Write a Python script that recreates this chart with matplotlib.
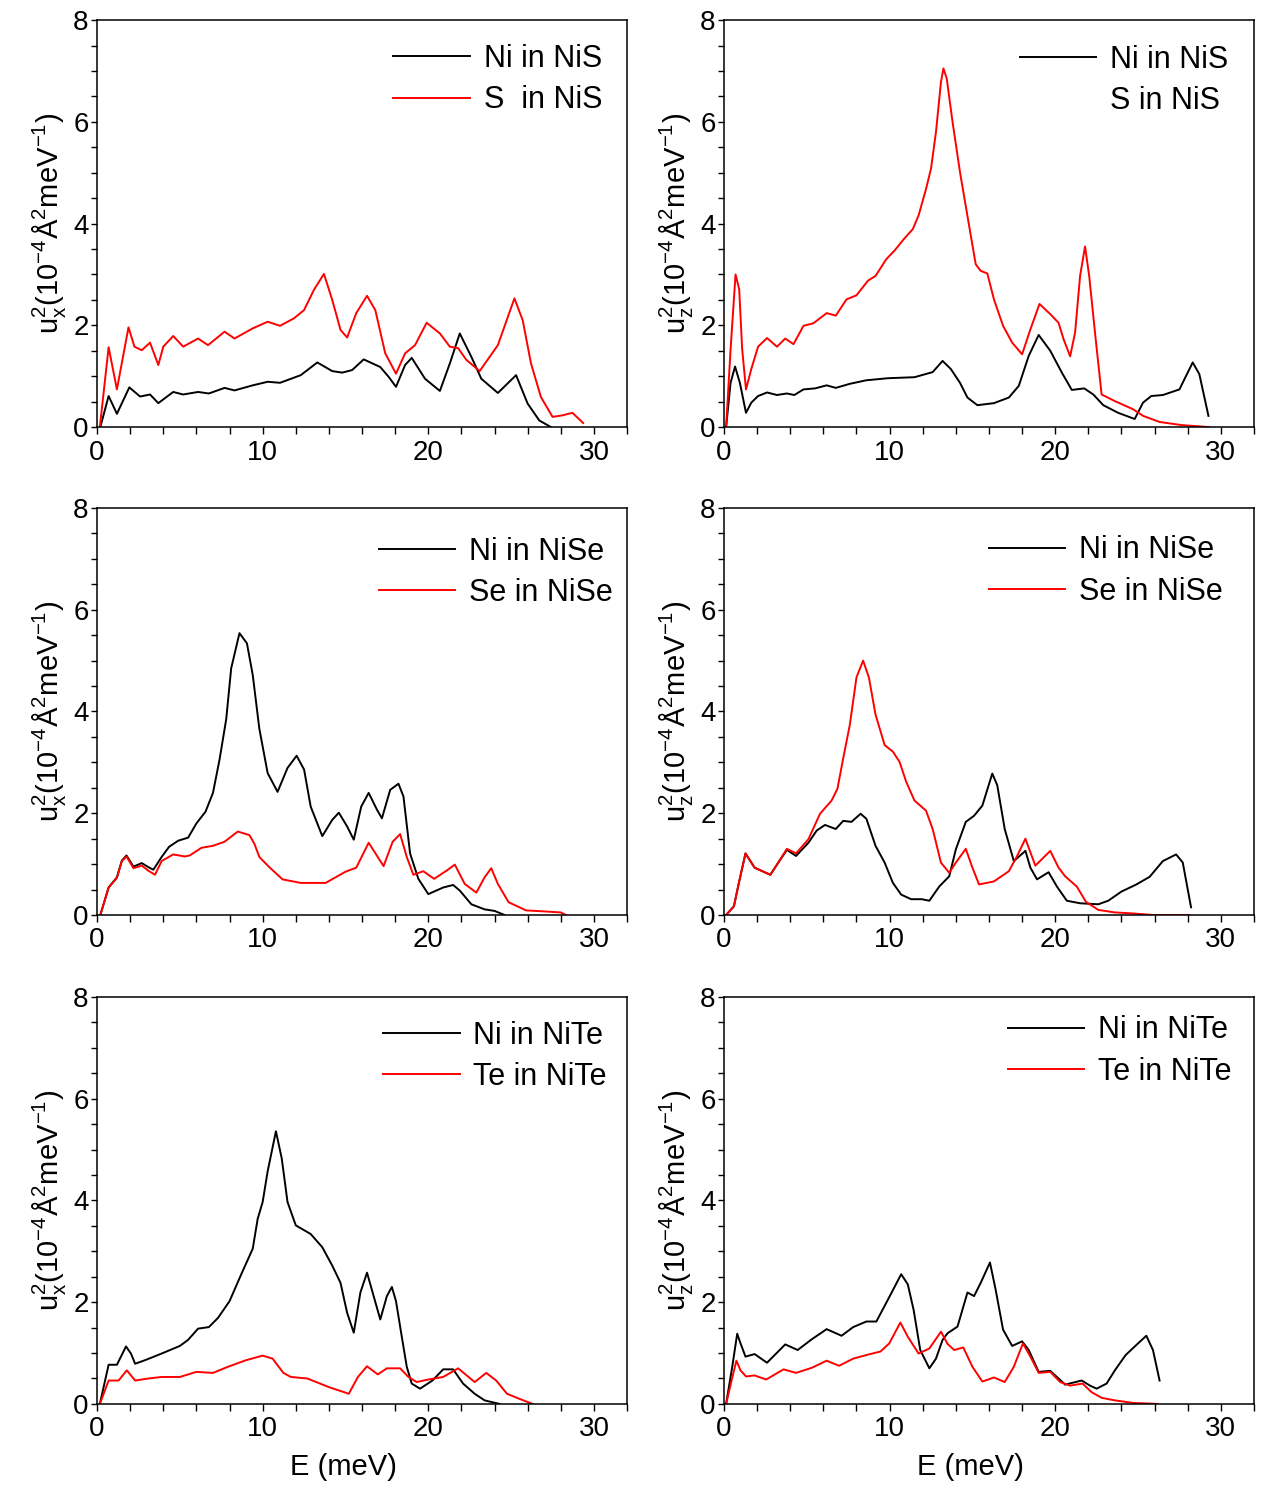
import matplotlib
matplotlib.use('Agg')
import matplotlib.pyplot as plt
from matplotlib.ticker import MultipleLocator

plt.rcParams['font.family'] = ['Liberation Sans', 'DejaVu Sans']
plt.rcParams['mathtext.fontset'] = 'custom'
plt.rcParams['mathtext.rm'] = 'Liberation Sans'
plt.rcParams['mathtext.it'] = 'Liberation Sans'

# NiS, u_x^2
nis_x_ni_E = [0.2, 0.7, 1.2, 1.95, 2.6, 3.2, 3.7, 4.6, 5.2, 6.1, 6.75, 7.7, 8.3, 9.4, 10.3, 11.05,
              12.3, 13.3, 14.2, 14.8, 15.4, 16.1, 17.1, 17.6, 18.05, 18.6, 19.0, 19.8, 20.7, 21.3,
              21.9, 22.6, 23.2, 24.2, 25.3, 26.0, 26.7, 27.4]
nis_x_ni = [0, 0.61, 0.26, 0.78, 0.6, 0.64, 0.47, 0.69, 0.64, 0.69, 0.66, 0.77, 0.72, 0.82, 0.89, 0.87,
            1.02, 1.27, 1.1, 1.07, 1.12, 1.33, 1.18, 0.99, 0.79, 1.22, 1.36, 0.95, 0.71, 1.25,
            1.84, 1.38, 0.95, 0.67, 1.02, 0.46, 0.13, 0]
nis_x_s_E = [0.17, 0.7, 1.2, 1.9, 2.26, 2.7, 3.2, 3.7, 4.0, 4.6, 5.2, 6.1, 6.7, 7.7, 8.3, 9.4, 10.3,
             11.05, 11.9, 12.5, 13.1, 13.7, 14.2, 14.7, 15.1, 15.65, 16.3, 16.8, 17.4, 18.05, 18.6,
             19.2, 19.9, 20.7, 21.3, 21.8, 22.3, 23.1, 24.2, 25.2, 25.7, 26.2, 26.8, 27.5, 28.1,
             28.7, 29.35]
nis_x_s = [0, 1.57, 0.74, 1.96, 1.58, 1.51, 1.66, 1.22, 1.58, 1.79, 1.58, 1.74, 1.61, 1.875, 1.74,
           1.94, 2.07, 1.99, 2.14, 2.30, 2.70, 3.01, 2.5, 1.91, 1.76, 2.24, 2.58, 2.30, 1.45, 1.05,
           1.45, 1.61, 2.05, 1.84, 1.58, 1.55, 1.32, 1.1, 1.61, 2.53, 2.1, 1.25, 0.59, 0.2, 0.23,
           0.28, 0.08]

# NiS, u_z^2
nis_z_ni_E = [0.13, 0.4, 0.67, 0.96, 1.33, 1.65, 2.06, 2.6, 3.2, 3.8, 4.25, 4.8, 5.5, 6.2, 6.75, 7.6,
              8.6, 9.9, 11.5, 12.6, 13.2, 13.7, 14.25, 14.7, 15.3, 16.3, 17.2, 17.8, 18.4, 19.0,
              19.7, 20.4, 21.0, 21.75, 22.3, 22.9, 23.8, 24.7, 24.8, 25.3, 25.8, 26.5, 27.5, 27.8,
              28.3, 28.7, 29.25]
nis_z_ni = [0, 0.87, 1.19, 0.87, 0.28, 0.48, 0.61, 0.68, 0.63, 0.66, 0.63, 0.74, 0.76, 0.82, 0.77,
            0.85, 0.92, 0.96, 0.98, 1.08, 1.3, 1.14, 0.87, 0.58, 0.43, 0.47, 0.58, 0.81, 1.4, 1.81,
            1.5, 1.07, 0.73, 0.76, 0.64, 0.43, 0.28, 0.17, 0.16, 0.48, 0.61, 0.63, 0.74, 0.94,
            1.27, 1.04, 0.22]
nis_z_s_E = [0.13, 0.4, 0.7, 0.92, 1.1, 1.33, 1.65, 2.06, 2.6, 3.2, 3.7, 4.2, 4.8, 5.4, 6.2, 6.75,
             7.4, 8.0, 8.7, 9.15, 9.8, 10.3, 10.9, 11.4, 11.75, 12.2, 12.5, 12.8, 13.1, 13.25,
             13.45, 13.8, 14.25, 14.8, 15.2, 15.5, 15.9, 16.3, 16.85, 17.4, 18.0, 18.5, 19.05,
             19.7, 20.2, 20.5, 20.9, 21.2, 21.5, 21.8, 22.05, 22.4, 22.8, 23.6, 24.7, 25.3, 26.3,
             27.6, 29.25]
nis_z_s = [0, 1.53, 3.0, 2.71, 1.53, 0.74, 1.14, 1.58, 1.75, 1.58, 1.74, 1.63, 1.99, 2.04, 2.24,
           2.19, 2.51, 2.59, 2.88, 2.97, 3.30, 3.47, 3.71, 3.89, 4.16, 4.68, 5.08, 5.8, 6.78, 7.05,
           6.85, 6.0, 5.01, 3.96, 3.2, 3.07, 3.02, 2.51, 1.99, 1.66, 1.43, 1.92, 2.42, 2.22, 2.05,
           1.73, 1.39, 1.86, 2.97, 3.55, 2.97, 1.86, 0.64, 0.51, 0.35, 0.22, 0.1, 0.04, 0]

# NiSe, u_x^2
nise_x_ni_E = [0.2, 0.7, 1.2, 1.5, 1.78, 2.2, 2.7, 3.1, 3.4, 3.9, 4.35, 4.9, 5.5, 6.0, 6.55, 7.0,
               7.4, 7.8, 8.1, 8.6, 9.05, 9.4, 9.8, 10.3, 10.9, 11.5, 12.05, 12.5, 12.9, 13.6, 14.2,
               14.6, 15.1, 15.5, 15.95, 16.4, 16.9, 17.2, 17.7, 18.2, 18.5, 18.9, 19.4, 20.0, 20.9,
               21.5, 21.9, 22.6, 23.4, 24.0, 24.6]
nise_x_ni = [0, 0.54, 0.74, 1.07, 1.17, 0.95, 1.02, 0.94, 0.89, 1.14, 1.34, 1.46, 1.52, 1.80, 2.03,
             2.40, 3.06, 3.85, 4.85, 5.54, 5.34, 4.72, 3.66, 2.79, 2.42, 2.89, 3.13, 2.86, 2.13,
             1.55, 1.87, 2.01, 1.74, 1.48, 2.13, 2.40, 2.07, 1.9, 2.46, 2.58, 2.33, 1.21, 0.71,
             0.41, 0.54, 0.59, 0.48, 0.21, 0.11, 0.08, 0]
nise_x_se_E = [0.2, 0.7, 1.2, 1.5, 1.78, 2.2, 2.7, 3.1, 3.5, 3.9, 4.6, 5.3, 5.6, 6.3, 7.0, 7.7, 8.5,
               9.2, 9.5, 9.8, 10.4, 11.2, 12.3, 13.8, 14.4, 15.0, 15.65, 16.4, 17.3, 17.85, 18.3,
               18.7, 19.1, 19.7, 20.35, 21.1, 21.6, 22.2, 22.9, 23.4, 23.8, 24.2, 24.85, 25.9,
               27.0, 28.0, 28.3]
nise_x_se = [0, 0.54, 0.73, 1.06, 1.15, 0.92, 0.97, 0.87, 0.79, 1.06, 1.19, 1.15, 1.17, 1.32, 1.36,
             1.44, 1.64, 1.57, 1.40, 1.14, 0.94, 0.70, 0.63, 0.63, 0.74, 0.85, 0.93, 1.42, 0.96,
             1.44, 1.59, 1.14, 0.79, 0.86, 0.71, 0.87, 0.99, 0.61, 0.44, 0.74, 0.92, 0.61, 0.25,
             0.09, 0.07, 0.05, 0]

# NiSe, u_z^2
nise_z_ni_E = [0.13, 0.6, 0.9, 1.3, 1.85, 2.8, 3.2, 3.8, 4.35, 5.1, 5.6, 6.1, 6.75, 7.2, 7.7, 8.25,
               8.6, 9.15, 9.7, 10.2, 10.7, 11.3, 11.95, 12.4, 13.0, 13.6, 14.0, 14.6, 15.1, 15.6,
               16.2, 16.5, 16.95, 17.5, 18.2, 18.5, 18.9, 19.6, 20.1, 20.7, 21.5, 22.6, 23.2, 24.0,
               24.9, 25.7, 26.5, 27.3, 27.7, 28.2]
nise_z_ni = [0, 0.17, 0.63, 1.21, 0.93, 0.79, 0.99, 1.28, 1.16, 1.42, 1.66, 1.77, 1.69, 1.85, 1.83,
             1.99, 1.89, 1.36, 1.03, 0.63, 0.40, 0.31, 0.31, 0.28, 0.56, 0.76, 1.29, 1.83, 1.95,
             2.15, 2.78, 2.55, 1.69, 1.06, 1.26, 0.93, 0.70, 0.84, 0.56, 0.28, 0.23, 0.21, 0.28,
             0.46, 0.60, 0.75, 1.06, 1.19, 1.03, 0.15]
nise_z_se_E = [0.13, 0.6, 0.9, 1.3, 1.85, 2.8, 3.2, 3.8, 4.35, 5.1, 5.8, 6.5, 6.85, 7.2, 7.6, 8.0,
               8.4, 8.75, 9.15, 9.7, 10.2, 10.6, 11.0, 11.5, 12.2, 12.6, 13.1, 13.6, 14.0, 14.6,
               15.0, 15.4, 16.3, 17.2, 17.7, 18.2, 18.4, 18.8, 19.7, 20.2, 20.6, 21.3, 21.85, 22.6,
               23.6, 24.7, 25.9, 28.1]
nise_z_se = [0, 0.17, 0.63, 1.21, 0.93, 0.79, 0.99, 1.30, 1.21, 1.49, 1.99, 2.25, 2.48, 3.08, 3.74,
             4.67, 5.0, 4.67, 3.94, 3.34, 3.21, 3.01, 2.62, 2.25, 2.05, 1.69, 1.03, 0.83, 1.03,
             1.30, 0.93, 0.60, 0.66, 0.86, 1.16, 1.50, 1.32, 0.97, 1.26, 0.93, 0.76, 0.56, 0.26,
             0.10, 0.05, 0.03, 0, 0]

# NiTe, u_x^2
nite_x_ni_E = [0.17, 0.7, 1.2, 1.75, 2.05, 2.3, 2.9, 3.9, 5.0, 5.5, 6.1, 6.75, 7.3, 8.0, 8.75, 9.4,
               9.7, 10.0, 10.3, 10.8, 11.15, 11.5, 12.0, 12.9, 13.6, 14.2, 14.7, 15.1, 15.5, 15.9,
               16.3, 16.7, 17.1, 17.5, 17.8, 18.05, 18.4, 18.7, 19.0, 19.5, 20.25, 20.9, 21.5,
               22.1, 22.8, 23.4, 24.3]
nite_x_ni = [0, 0.77, 0.77, 1.13, 0.99, 0.79, 0.86, 0.99, 1.14, 1.26, 1.48, 1.51, 1.69, 2.02, 2.58,
             3.05, 3.64, 3.97, 4.57, 5.36, 4.83, 3.97, 3.51, 3.34, 3.08, 2.72, 2.38, 1.79, 1.40,
             2.19, 2.58, 2.12, 1.66, 2.12, 2.30, 2.02, 1.32, 0.73, 0.40, 0.30, 0.46, 0.68, 0.68,
             0.40, 0.20, 0.07, 0]
nite_x_te_E = [0.17, 0.7, 1.3, 1.8, 2.3, 3.1, 3.9, 5.0, 6.0, 7.0, 7.9, 9.0, 10.0, 10.6, 11.25, 11.7,
               12.7, 14.0, 15.2, 15.75, 16.3, 16.95, 17.5, 18.3, 18.8, 19.3, 20.0, 20.9, 21.8, 22.8,
               23.5, 24.1, 24.75, 25.5, 26.3]
nite_x_te = [0, 0.46, 0.46, 0.66, 0.46, 0.50, 0.53, 0.53, 0.63, 0.61, 0.73, 0.86, 0.95, 0.89, 0.61,
             0.53, 0.50, 0.33, 0.20, 0.53, 0.74, 0.58, 0.70, 0.70, 0.53, 0.43, 0.48, 0.53, 0.70,
             0.43, 0.61, 0.46, 0.20, 0.10, 0]

# NiTe, u_z^2
nite_z_ni_E = [0.13, 0.5, 0.8, 1.0, 1.3, 1.85, 2.6, 3.7, 4.45, 5.3, 6.2, 7.1, 7.8, 8.6, 9.2, 9.9,
               10.7, 11.1, 11.45, 11.85, 12.4, 12.8, 13.2, 13.5, 14.1, 14.7, 15.1, 15.5, 16.06,
               16.4, 16.85, 17.4, 18.0, 18.4, 19.0, 19.7, 20.1, 20.6, 21.6, 22.1, 22.5, 23.1, 23.6,
               24.25, 24.9, 25.5, 25.9, 26.3]
nite_z_ni = [0, 0.73, 1.38, 1.19, 0.93, 0.98, 0.81, 1.17, 1.06, 1.27, 1.47, 1.34, 1.51, 1.62, 1.62,
             2.05, 2.55, 2.35, 1.85, 1.06, 0.70, 0.89, 1.26, 1.39, 1.52, 2.19, 2.12, 2.38, 2.78,
             2.25, 1.46, 1.14, 1.23, 1.06, 0.63, 0.65, 0.53, 0.38, 0.46, 0.36, 0.30, 0.40, 0.66,
             0.96, 1.16, 1.34, 1.06, 0.46]
nite_z_te_E = [0.13, 0.46, 0.75, 1.0, 1.33, 1.85, 2.55, 3.6, 4.35, 5.3, 6.2, 6.95, 7.8, 8.7, 9.45,
               9.98, 10.65, 11.1, 11.75, 12.4, 13.1, 13.5, 13.9, 14.45, 15.0, 15.6, 16.3, 16.95,
               17.5, 18.05, 18.5, 19.0, 19.7, 20.3, 20.9, 21.65, 22.2, 22.8, 23.6, 24.7, 26.2]
nite_z_te = [0, 0.46, 0.85, 0.66, 0.54, 0.56, 0.48, 0.68, 0.61, 0.71, 0.85, 0.75, 0.89, 0.97, 1.03,
             1.19, 1.60, 1.32, 0.99, 1.09, 1.42, 1.18, 1.06, 1.11, 0.73, 0.44, 0.52, 0.43, 0.73,
             1.19, 0.93, 0.61, 0.63, 0.43, 0.36, 0.40, 0.23, 0.12, 0.07, 0.02, 0]

ylabel_x = r'u$_\mathrm{x}^\mathrm{2}$(10$^\mathrm{-4}$Å$^\mathrm{2}$meV$^\mathrm{-1}$)'
ylabel_z = r'u$_\mathrm{z}^\mathrm{2}$(10$^\mathrm{-4}$Å$^\mathrm{2}$meV$^\mathrm{-1}$)'

panels = [
    (nis_x_ni_E, nis_x_ni, nis_x_s_E, nis_x_s, 'Ni in NiS', 'S  in NiS', ylabel_x, True),
    (nis_z_ni_E, nis_z_ni, nis_z_s_E, nis_z_s, 'Ni in NiS', 'S in NiS', ylabel_z, False),
    (nise_x_ni_E, nise_x_ni, nise_x_se_E, nise_x_se, 'Ni in NiSe', 'Se in NiSe', ylabel_x, True),
    (nise_z_ni_E, nise_z_ni, nise_z_se_E, nise_z_se, 'Ni in NiSe', 'Se in NiSe', ylabel_z, True),
    (nite_x_ni_E, nite_x_ni, nite_x_te_E, nite_x_te, 'Ni in NiTe', 'Te in NiTe', ylabel_x, True),
    (nite_z_ni_E, nite_z_ni, nite_z_te_E, nite_z_te, 'Ni in NiTe', 'Te in NiTe', ylabel_z, True),
]
# legend anchor (upper right corner, axes fraction) for each panel
leg_anchor = [(0.976, 0.972), (0.974, 0.970), (0.996, 0.960),
              (0.964, 0.963), (0.985, 0.972), (0.980, 0.985)]

fig = plt.figure(figsize=(12.65, 14.88), dpi=100)
lefts = [0.0767, 0.5723]
bottoms = [0.7130, 0.3851, 0.0565]
w, h = 0.419, 0.2735

for k, (e1, y1, e2, y2, lab1, lab2, ylab, show_red) in enumerate(panels):
    r, c = divmod(k, 2)
    ax = fig.add_axes([lefts[c], bottoms[r], w, h])
    ax.plot(e1, y1, color='black', lw=1.4, label=lab1)
    ax.plot(e2, y2, color='red', lw=1.4, label=lab2)
    ax.set_xlim(0, 32)
    ax.set_ylim(0, 8)
    ax.xaxis.set_major_locator(MultipleLocator(10))
    ax.xaxis.set_minor_locator(MultipleLocator(2))
    ax.yaxis.set_major_locator(MultipleLocator(2))
    ax.yaxis.set_minor_locator(MultipleLocator(0.5))
    ax.tick_params(which='both', direction='out', top=False, right=False, labelsize=20, width=1.0)
    ax.tick_params(axis='x', which='major', length=5, pad=4)
    ax.tick_params(axis='x', which='minor', length=5)
    ax.tick_params(axis='y', which='major', length=4, pad=2)
    ax.tick_params(axis='y', which='minor', length=4)
    for s in ax.spines.values():
        s.set_linewidth(1.1)
    ax.set_ylabel(ylab, fontsize=21, labelpad=4)
    if r == 2:
        ax.set_xlabel('E (meV)', fontsize=21)
        ax.xaxis.set_label_coords(0.465, -0.12)
    leg = ax.legend(loc='upper right', bbox_to_anchor=leg_anchor[k], frameon=False,
                    fontsize=22, handlelength=2.5, handletextpad=0.45, labelspacing=0.38,
                    borderaxespad=0.0)
    if not show_red:
        leg.legend_handles[1].set_visible(False)

fig.savefig('out.png', dpi=100)
